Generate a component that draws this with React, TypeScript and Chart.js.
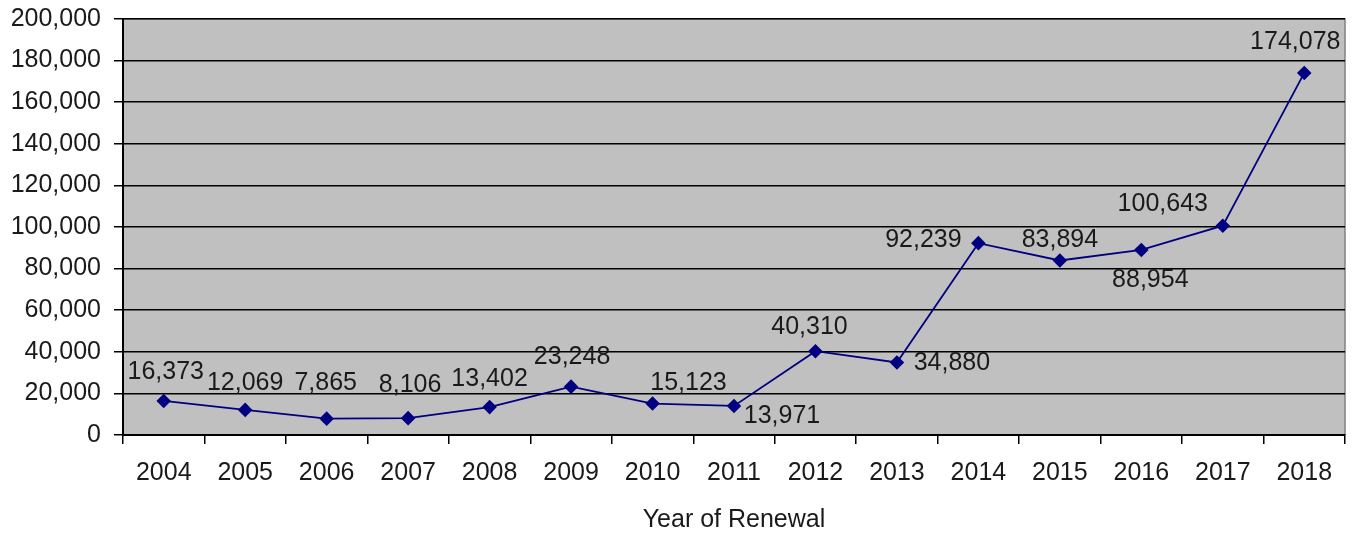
import React, { useEffect, useRef } from "react";
import { Chart, registerables } from "chart.js";

Chart.register(...registerables);

const years = ["2004", "2005", "2006", "2007", "2008", "2009", "2010", "2011", "2012", "2013", "2014", "2015", "2016", "2017", "2018"];
const renewals = [16373, 12069, 7865, 8106, 13402, 23248, 15123, 13971, 40310, 34880, 92239, 83894, 88954, 100643, 174078];
// label offset [dx, dy] from each point, in px
const labelOffsets: [number, number][] = [
  [2, -29], [0, -27], [-1, -36], [2, -33], [0, -28], [1, -30], [36, -20], [48, 10],
  [-6, -24], [55, 1], [-55, -3], [0, -20], [9, 30], [-60, -22], [-9, -31],
];

const FONT = "'Liberation Sans', Arial, sans-serif";
const FS = 25;
const fmt = (v: number) => v.toLocaleString("en-US");

const bgPlugin = {
  id: "plotBg",
  beforeDraw(chart: any) {
    const { ctx, chartArea: a } = chart;
    ctx.save();
    ctx.fillStyle = "#c0c0c0";
    ctx.fillRect(a.left, a.top, a.right - a.left, a.bottom - a.top);
    ctx.strokeStyle = "#808080";
    ctx.lineWidth = 1.5;
    ctx.beginPath();
    ctx.moveTo(a.left, a.top);
    ctx.lineTo(a.right, a.top);
    ctx.lineTo(a.right, a.bottom);
    ctx.stroke();
    ctx.restore();
  },
};

const labelPlugin = {
  id: "pointLabels",
  afterDatasetsDraw(chart: any) {
    const { ctx } = chart;
    const meta = chart.getDatasetMeta(0);
    ctx.save();
    ctx.font = `${FS}px ${FONT}`;
    ctx.fillStyle = "#1a1a1a";
    ctx.textAlign = "center";
    ctx.textBaseline = "middle";
    meta.data.forEach((pt: any, i: number) => {
      const [dx, dy] = labelOffsets[i];
      ctx.fillText(fmt(renewals[i]), pt.x + dx, pt.y + dy);
    });
    ctx.restore();
  },
};

export default function App() {
  const ref = useRef<HTMLCanvasElement>(null);
  useEffect(() => {
    document.body.style.margin = "0";
    const chart = new Chart(ref.current!, {
      type: "line",
      data: {
        labels: years,
        datasets: [
          {
            data: renewals,
            borderColor: "#000080",
            backgroundColor: "#000080",
            borderWidth: 1.8,
            pointStyle: "rectRot",
            pointRadius: 6,
            pointHoverRadius: 6,
            tension: 0,
          },
        ],
      },
      options: {
        responsive: false,
        animation: false,
        layout: { padding: { top: 19, right: 11, left: 0, bottom: 0 } },
        plugins: { legend: { display: false }, tooltip: { enabled: false } },
        scales: {
          x: {
            offset: true,
            grid: { offset: true, drawOnChartArea: false, tickLength: 9, color: "#000", lineWidth: 1.5 },
            border: { color: "#000", width: 2 },
            ticks: { color: "#1a1a1a", font: { family: FONT, size: FS }, padding: 14, maxRotation: 0 },
            title: { display: true, text: "Year of Renewal", color: "#1a1a1a", font: { family: FONT, size: FS }, padding: { top: 14, bottom: 2 } },
            afterFit: (s: any) => { s.height = 102; s.paddingLeft = 0; s.paddingRight = 0; },
          },
          y: {
            min: 0,
            max: 200000,
            ticks: { stepSize: 20000, color: "#1a1a1a", font: { family: FONT, size: FS }, padding: 13, callback: (v: any) => fmt(Number(v)) },
            grid: { color: "#000", lineWidth: 1.5, tickLength: 9 },
            border: { color: "#000", width: 2 },
            afterFit: (s: any) => { s.width = 123; s.paddingTop = 0; s.paddingBottom = 0; },
          },
        },
      },
      plugins: [bgPlugin, labelPlugin],
    });
    return () => chart.destroy();
  }, []);
  return <canvas ref={ref} width={1356} height={537} style={{ display: "block" }} />;
}
